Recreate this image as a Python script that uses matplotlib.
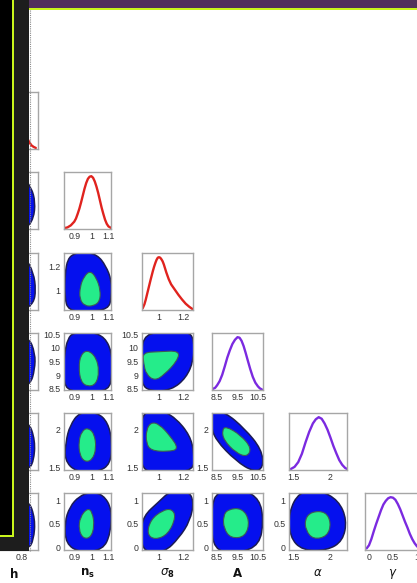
import matplotlib
matplotlib.use('Agg')
import matplotlib.pyplot as plt
from matplotlib.patches import Rectangle, PathPatch
from matplotlib.path import Path
from matplotlib.lines import Line2D

# ---------------- data ----------------
param_names = ['h', 'ns', 's8', 'A', 'alpha', 'gamma']
axis_labels = [r'$\mathbf{h}$', r'$\mathbf{n_s}$', r'$\sigma_\mathbf{8}$',
               r'$\mathbf{A}$', r'$\alpha$', r'$\gamma$']

x_limits = {'h': (0.5, 0.95), 'ns': (0.84, 1.115), 's8': (0.86, 1.28),
            'A': (8.25, 10.75), 'alpha': (1.444, 2.236), 'gamma': (-0.083, 1.083)}
y_limits = {'ns': (0.84, 1.115), 's8': (0.83, 1.32), 'A': (8.45, 10.55),
            'alpha': (1.47, 2.21), 'gamma': (-0.06, 1.15)}
x_ticks = {'h': [0.8], 'ns': [0.9, 1, 1.1], 's8': [1, 1.2],
           'A': [8.5, 9.5, 10.5], 'alpha': [1.5, 2], 'gamma': [0, 0.5, 1]}
y_ticks = {'ns': [0.9, 1, 1.1], 's8': [1, 1.2], 'A': [8.5, 9, 9.5, 10, 10.5],
           'alpha': [1.5, 2], 'gamma': [0, 0.5, 1]}

# 1D marginal posteriors (normalised to peak = 1)
h_x = [0.55, 0.6, 0.65, 0.7, 0.75, 0.8, 0.82, 0.85, 0.87, 0.89, 0.91, 0.93]
h_p = [0.1, 0.4, 0.85, 1.0, 0.8, 0.45, 0.35, 0.2, 0.12, 0.06, 0.03, 0.01]
ns_x = [0.845, 0.86, 0.88, 0.9, 0.91, 0.92, 0.93, 0.94, 0.95, 0.96, 0.97, 0.98, 0.99, 1.0,
        1.01, 1.02, 1.03, 1.04, 1.05, 1.06, 1.07, 1.08, 1.09, 1.10, 1.115]
ns_p = [0.01, 0.02, 0.06, 0.13, 0.19, 0.28, 0.38, 0.50, 0.63, 0.76, 0.87, 0.95, 0.99, 1.0,
        0.97, 0.90, 0.80, 0.68, 0.54, 0.40, 0.28, 0.17, 0.09, 0.04, 0.01]
s8_x = [0.865, 0.88, 0.89, 0.91, 0.93, 0.95, 0.96, 0.97, 0.98, 0.99, 1.0, 1.01, 1.02, 1.03,
        1.04, 1.06, 1.08, 1.10, 1.13, 1.16, 1.19, 1.22, 1.25, 1.275]
s8_p = [0.02, 0.10, 0.18, 0.37, 0.56, 0.74, 0.82, 0.89, 0.95, 0.99, 1.0, 0.99, 0.96, 0.92,
        0.86, 0.71, 0.58, 0.48, 0.38, 0.28, 0.19, 0.11, 0.05, 0.01]
A_x = [8.28, 8.4, 8.5, 8.625, 8.75, 8.875, 9.0, 9.125, 9.25, 9.375, 9.5, 9.6, 9.7, 9.8,
       9.9, 10.0, 10.125, 10.25, 10.375, 10.5, 10.6, 10.7]
A_p = [0.01, 0.03, 0.08, 0.16, 0.28, 0.44, 0.61, 0.75, 0.87, 0.95, 1.0, 0.99, 0.93, 0.83,
       0.70, 0.56, 0.39, 0.24, 0.13, 0.06, 0.02, 0.0]
alpha_x = [1.47, 1.52, 1.57, 1.62, 1.67, 1.72, 1.77, 1.81, 1.85, 1.89, 1.93, 1.97, 2.01,
           2.05, 2.09, 2.13, 2.17, 2.21, 2.235]
alpha_p = [0.01, 0.05, 0.14, 0.30, 0.52, 0.72, 0.88, 0.96, 1.0, 0.97, 0.88, 0.76, 0.61,
           0.45, 0.31, 0.18, 0.09, 0.03, 0.01]
gamma_x = [-0.05, 0.0, 0.05, 0.1, 0.15, 0.2, 0.25, 0.3, 0.35, 0.4, 0.45, 0.5, 0.55, 0.6,
           0.65, 0.7, 0.75, 0.8, 0.85, 0.9, 0.95, 1.0, 1.05]
gamma_p = [0.02, 0.08, 0.2, 0.35, 0.49, 0.62, 0.75, 0.86, 0.93, 0.98, 1.0, 0.99, 0.95, 0.87,
           0.77, 0.65, 0.53, 0.42, 0.30, 0.20, 0.12, 0.06, 0.02]

# 2D credible regions (outer = 95%, inner = 68%), boundary control points in data units
h_ns_outer = [(0.6, 1.12), (0.8, 1.10), (0.89, 1.04), (0.925, 0.97), (0.91, 0.89),
              (0.84, 0.84), (0.6, 0.83), (0.52, 0.95)]
h_s8_outer = [(0.6, 1.32), (0.83, 1.29), (0.91, 1.15), (0.93, 1.0), (0.91, 0.89),
              (0.82, 0.83), (0.6, 0.83)]
h_A_outer = [(0.6, 10.55), (0.86, 10.45), (0.925, 9.8), (0.92, 9.2), (0.88, 8.65),
             (0.75, 8.45), (0.6, 8.45)]
h_alpha_outer = [(0.6, 2.22), (0.86, 2.12), (0.925, 1.85), (0.91, 1.58), (0.86, 1.47),
                 (0.6, 1.46)]
h_gamma_outer = [(0.6, 1.15), (0.86, 1.03), (0.925, 0.6), (0.91, 0.15), (0.86, -0.05),
                 (0.6, -0.08)]

ns_s8_outer = [(0.900, 1.315), (0.953, 1.330), (1.035, 1.305), (1.085, 1.210), (1.118, 1.085),
               (1.118, 0.943), (1.100, 0.835), (0.972, 0.818), (0.865, 0.825), (0.843, 0.943),
               (0.846, 1.144), (0.862, 1.270)]
ns_s8_inner = [(0.994, 1.168), (1.030, 1.105), (1.053, 1.002), (1.050, 0.905), (1.013, 0.864),
               (0.961, 0.864), (0.931, 0.925), (0.934, 1.031), (0.958, 1.120)]
ns_A_outer = [(0.895, 10.56), (0.994, 10.60), (1.080, 10.40), (1.122, 9.79), (1.122, 9.06),
              (1.104, 8.42), (0.972, 8.40), (0.852, 8.42), (0.836, 9.06), (0.843, 9.79),
              (0.862, 10.34)]
ns_A_inner = [(0.978, 9.93), (1.028, 9.66), (1.046, 9.14), (1.028, 8.66), (0.978, 8.57),
              (0.938, 8.76), (0.926, 9.29), (0.938, 9.75)]
ns_alpha_outer = [(0.931, 2.225), (1.038, 2.215), (1.097, 2.085), (1.122, 1.84), (1.112, 1.545),
                  (1.038, 1.445), (0.908, 1.445), (0.843, 1.600), (0.851, 1.84), (0.874, 2.045)]
ns_alpha_inner = [(0.978, 2.020), (1.017, 1.946), (1.029, 1.751), (1.005, 1.598), (0.961, 1.574),
                  (0.931, 1.670), (0.926, 1.84), (0.944, 1.972)]
ns_gamma_outer = [(0.994, 1.170), (1.070, 1.115), (1.120, 0.810), (1.112, 0.290), (1.068, -0.060),
                  (0.931, -0.110), (0.851, 0.070), (0.843, 0.521), (0.874, 0.860), (0.928, 1.080)]
ns_gamma_inner = [(0.978, 0.830), (1.006, 0.745), (1.018, 0.448), (0.997, 0.205), (0.953, 0.180),
                  (0.926, 0.370), (0.934, 0.640)]
s8_A_outer = [(0.884, 10.53), (1.07, 10.58), (1.24, 10.61), (1.29, 10.30), (1.285, 9.54),
              (1.224, 8.90), (1.103, 8.45), (0.935, 8.40), (0.852, 8.65), (0.85, 9.79)]
s8_A_inner = [(0.866, 9.83), (0.999, 9.86), (1.170, 9.90), (1.150, 9.52), (1.045, 9.02),
              (0.966, 8.79), (0.895, 9.02), (0.873, 9.44)]
s8_alpha_outer = [(0.872, 2.225), (1.011, 2.25), (1.135, 2.150), (1.255, 1.920), (1.29, 1.685),
                  (1.286, 1.460), (1.07, 1.44), (0.872, 1.44), (0.85, 1.685), (0.85, 2.010)]
s8_alpha_inner = [(0.935, 2.090), (1.002, 2.065), (1.090, 1.915), (1.165, 1.740), (1.07, 1.708),
                  (0.935, 1.722), (0.895, 1.818), (0.895, 1.990)]
s8_gamma_outer = [(1.095, 1.20), (1.24, 1.20), (1.288, 0.970), (1.256, 0.560), (1.165, 0.195),
                  (1.045, -0.11), (0.872, -0.11), (0.85, 0.291), (0.872, 0.665), (0.995, 0.955)]
s8_gamma_inner = [(1.105, 0.815), (1.140, 0.645), (1.075, 0.270), (0.965, 0.155), (0.900, 0.280),
                  (0.932, 0.585), (1.028, 0.780)]
A_alpha_outer = [(8.22, 2.235), (8.90, 2.220), (9.84, 2.010), (10.68, 1.740), (10.78, 1.500),
                 (10.30, 1.445), (9.43, 1.585), (8.42, 1.862), (8.20, 2.050)]
A_alpha_inner = [(8.93, 2.038), (9.66, 1.922), (10.19, 1.752), (9.97, 1.640), (9.43, 1.692),
                 (8.83, 1.856), (8.74, 1.985)]
A_gamma_outer = [(8.50, 1.20), (9.80, 1.22), (10.58, 1.02), (10.78, 0.569), (10.58, 0.050),
                 (9.625, -0.12), (8.50, -0.10), (8.20, 0.291), (8.22, 0.830)]
A_gamma_inner = [(9.03, 0.805), (9.72, 0.830), (10.10, 0.569), (9.90, 0.225), (9.18, 0.185),
                 (8.83, 0.395), (8.80, 0.660)]
alpha_gamma_outer = [(1.585, 1.18), (1.864, 1.21), (2.120, 0.995), (2.235, 0.581), (2.180, 0.130),
                     (1.962, -0.07), (1.625, -0.07), (1.455, 0.215), (1.440, 0.745)]
alpha_gamma_inner = [(1.753, 0.755), (1.945, 0.755), (2.020, 0.509), (1.967, 0.230),
                     (1.775, 0.165), (1.672, 0.360), (1.662, 0.600)]

marginals = {'h': (h_x, h_p), 'ns': (ns_x, ns_p), 's8': (s8_x, s8_p),
             'A': (A_x, A_p), 'alpha': (alpha_x, alpha_p), 'gamma': (gamma_x, gamma_p)}
regions = {
    (1, 0): (h_ns_outer, None), (2, 0): (h_s8_outer, None), (3, 0): (h_A_outer, None),
    (4, 0): (h_alpha_outer, None), (5, 0): (h_gamma_outer, None),
    (2, 1): (ns_s8_outer, ns_s8_inner), (3, 1): (ns_A_outer, ns_A_inner),
    (4, 1): (ns_alpha_outer, ns_alpha_inner), (5, 1): (ns_gamma_outer, ns_gamma_inner),
    (3, 2): (s8_A_outer, s8_A_inner), (4, 2): (s8_alpha_outer, s8_alpha_inner),
    (5, 2): (s8_gamma_outer, s8_gamma_inner),
    (4, 3): (A_alpha_outer, A_alpha_inner), (5, 3): (A_gamma_outer, A_gamma_inner),
    (5, 4): (alpha_gamma_outer, alpha_gamma_inner),
}

# ---------------- layout (pixels) ----------------
W, H = 417, 583
fig = plt.figure(figsize=(W / 100, H / 100), dpi=100)
fig.patch.set_facecolor('white')
plt.rcParams['font.family'] = ['Liberation Sans', 'DejaVu Sans']

col_left = [-11, 64, 142, 212, 289, 365]
col_width = [49, 47, 51, 51, 58, 56]
row_top = [92, 172, 253, 333, 413, 493]
row_h = 57

RED = '#e0231e'
PURPLE = '#7b2ae0'
BLUE = '#0510ee'
GREEN = '#25ec8a'
EDGE = '#1c1c55'
FRAME = '#a6a6a6'
TXT = '#333333'


def fmt(v):
    return ('%g' % v)


def smooth_closed_path(pts):
    """Closed quadratic-Bezier outline using the points as control points."""
    n = len(pts)
    mids = [((pts[i][0] + pts[(i + 1) % n][0]) / 2, (pts[i][1] + pts[(i + 1) % n][1]) / 2)
            for i in range(n)]
    verts = [mids[-1]]
    codes = [Path.MOVETO]
    for i in range(n):
        verts += [pts[i], mids[i]]
        codes += [Path.CURVE3, Path.CURVE3]
    verts.append(mids[-1])
    codes.append(Path.CLOSEPOLY)
    return Path(verts, codes)


def make_ax(r, c):
    l, w = col_left[c], col_width[c]
    t = row_top[r]
    ax = fig.add_axes([l / W, 1 - (t + row_h) / H, w / W, row_h / H])
    for s in ax.spines.values():
        s.set_color(FRAME)
        s.set_linewidth(1.0)
        s.set_zorder(5)
    ax.tick_params(length=0, labelsize=6.3, colors=TXT, pad=2.5)
    return ax


for r in range(6):
    for c in range(r + 1):
        ax = make_ax(r, c)
        px = param_names[c]
        ax.set_xlim(*x_limits[px])
        ax.set_xticks(x_ticks[px])
        ax.set_xticklabels([fmt(v) for v in x_ticks[px]])
        if r == c:
            xs, ps = marginals[px]
            col = RED if c < 3 else PURPLE
            ax.plot(xs, ps, color=col, lw=1.7, solid_joinstyle='round',
                    solid_capstyle='round')
            ax.set_ylim(-0.01, 1.08)
            ax.set_yticks([])
        else:
            py = param_names[r]
            ax.set_ylim(*y_limits[py])
            ax.set_yticks(y_ticks[py])
            if c == 0:
                # labels of the first column lie under the covering panel
                ax.set_yticklabels([])
            else:
                ax.set_yticklabels([fmt(v) for v in y_ticks[py]])
            outer, inner = regions[(r, c)]
            ax.add_patch(PathPatch(smooth_closed_path(outer), facecolor=BLUE,
                                   edgecolor=EDGE, lw=1.1, zorder=1))
            if inner is not None:
                ax.add_patch(PathPatch(smooth_closed_path(inner), facecolor=GREEN,
                                       edgecolor='#3d5c55', lw=0.8, zorder=2))
        if r == 5:
            ax.set_xlabel(axis_labels[c], fontsize=8.5, color='#111111', labelpad=3)

# ---------------- screenshot frame overlays ----------------
def px_rect(x0, y0, x1, y1, color, z):
    fig.add_artist(Rectangle((x0 / W, 1 - y1 / H), (x1 - x0) / W, (y1 - y0) / H,
                             transform=fig.transFigure, facecolor=color,
                             edgecolor='none', zorder=z))

px_rect(29, 0, W, 8, '#52305c', 50)          # top purple band
px_rect(29, 8, W, 10, '#c9f51c', 51)         # yellow rule
px_rect(0, 0, 29, 551, '#1d1d1d', 52)        # dark side panel
px_rect(0, 0, 14, 537, '#c9f51c', 53)        # yellow border
px_rect(0, 0, 12, 535, '#000000', 54)        # black box
fig.add_artist(Line2D([29.5 / W, 29.5 / W], [1 - 10 / H, 1 - 551 / H],
                      transform=fig.transFigure, color='#8a8a8a', lw=0.8,
                      ls=(0, (1, 1)), zorder=55))

fig.savefig('out.png', dpi=100, facecolor='white')
